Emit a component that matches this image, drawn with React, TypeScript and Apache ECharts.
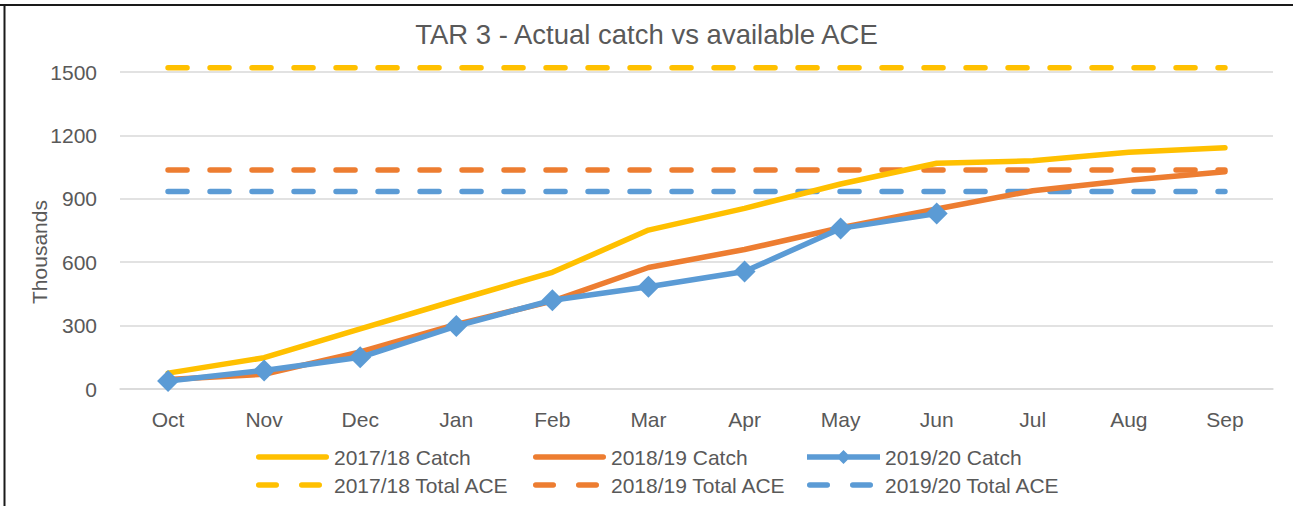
import React, { useEffect, useRef } from "react";
import * as echarts from "echarts";

const categories = ["Oct", "Nov", "Dec", "Jan", "Feb", "Mar", "Apr", "May", "Jun", "Jul", "Aug", "Sep"];
const catch1718 = [75, 148, 285, 420, 552, 752, 855, 970, 1068, 1080, 1120, 1142];
const catch1819 = [45, 70, 176, 306, 416, 575, 660, 763, 852, 938, 988, 1028];
const catch1920 = [38, 88, 150, 298, 420, 484, 556, 760, 830];
const ace1718 = [1520, 1520, 1520, 1520, 1520, 1520, 1520, 1520, 1520, 1520, 1520, 1520];
const ace1819 = [1036, 1036, 1036, 1036, 1036, 1036, 1036, 1036, 1036, 1036, 1036, 1036];
const ace1920 = [934, 934, 934, 934, 934, 934, 934, 934, 934, 934, 934, 934];
const yTicks = { min: 0, max: 1500, interval: 300 };

const YELLOW = "#FFC000";
const ORANGE = "#ED7D31";
const BLUE = "#5B9BD5";
const TEXT = "#595959";
const FONT = "'Liberation Sans', Arial, sans-serif";

const SOLID_ICON = "path://M2.75 0 H70.25 A2.75 2.75 0 0 1 70.25 5.5 H2.75 A2.75 2.75 0 0 1 2.75 0 Z";
const DASH_ICON =
  "path://M2.75 0 H20.25 A2.75 2.75 0 0 1 20.25 5.5 H2.75 A2.75 2.75 0 0 1 2.75 0 Z M45.75 0 H63.25 A2.75 2.75 0 0 1 63.25 5.5 H45.75 A2.75 2.75 0 0 1 45.75 0 Z";
const DIAMOND_ICON =
  "path://M0 4.25 L32.25 4.25 L36.5 0 L40.75 4.25 L73 4.25 L73 9.75 L40.75 9.75 L36.5 14 L32.25 9.75 L0 9.75 Z";

export default function App() {
  const ref = useRef<HTMLDivElement>(null);
  useEffect(() => {
    document.body.style.margin = "0";
    const chart = echarts.init(ref.current!, null, { renderer: "svg" });
    const lw = 5.5;
    const dash = { type: [19, 23] as any, cap: "round" as const };
    const mkLegend = (name: string, icon: string, left: number, top: number, w: number, h: number, padLeft: number) => ({
      show: true,
      data: [{ name, icon }],
      left,
      top,
      orient: "horizontal" as const,
      itemWidth: w,
      itemHeight: h,
      padding: 0,
      selectedMode: false,
      textStyle: { color: TEXT, fontSize: 21, fontFamily: FONT, lineHeight: 24, padding: [0, 0, 0, padLeft] },
    });
    chart.setOption({
      animation: false,
      backgroundColor: "#ffffff",
      title: {
        text: "TAR 3 - Actual catch vs available ACE",
        left: "center",
        top: 15,
        textStyle: { color: TEXT, fontSize: 27.5, fontWeight: "normal", fontFamily: FONT },
      },
      grid: { left: 120, right: 20, top: 72, bottom: 117, containLabel: false },
      xAxis: {
        type: "category",
        data: categories,
        boundaryGap: true,
        axisLine: { show: true, lineStyle: { color: "#d9d9d9", width: 1.5 } },
        axisTick: { show: false },
        axisLabel: { color: TEXT, fontSize: 21, fontFamily: FONT, margin: 20 },
      },
      yAxis: {
        type: "value",
        min: yTicks.min,
        max: yTicks.max,
        interval: yTicks.interval,
        axisLine: { show: false },
        axisTick: { show: false },
        splitLine: { lineStyle: { color: "#d9d9d9", width: 1.5 } },
        axisLabel: { color: TEXT, fontSize: 21, fontFamily: FONT, margin: 23, formatter: (v: number) => String(v) },
      },
      legend: [
        mkLegend("2017/18 Catch", SOLID_ICON, 256, 445, 73, 5.5, 0),
        mkLegend("2018/19 Catch", SOLID_ICON, 533, 445, 73, 5.5, 0),
        mkLegend("2019/20 Catch", DIAMOND_ICON, 807, 445, 73, 14, 0),
        mkLegend("2017/18 Total ACE", DASH_ICON, 256, 473, 66, 5.5, 7),
        mkLegend("2018/19 Total ACE", DASH_ICON, 533, 473, 66, 5.5, 7),
        mkLegend("2019/20 Total ACE", DASH_ICON, 807, 473, 66, 5.5, 7),
      ],
      graphic: [
        {
          type: "text",
          x: 39,
          y: 252,
          rotation: Math.PI / 2,
          style: { text: "Thousands", fill: TEXT, fontSize: 21, fontFamily: FONT, align: "center", verticalAlign: "middle" },
        },
        { type: "line", shape: { x1: 0, y1: 5, x2: 1293, y2: 5 }, style: { stroke: "#1a1a1a", lineWidth: 2 } },
        { type: "line", shape: { x1: 4.5, y1: 4, x2: 4.5, y2: 506 }, style: { stroke: "#1a1a1a", lineWidth: 2 } },
      ],
      series: [
        { name: "2017/18 Total ACE", type: "line", clip: false, data: ace1718, symbol: "none", lineStyle: { color: YELLOW, width: lw, ...dash }, itemStyle: { color: YELLOW } },
        { name: "2018/19 Total ACE", type: "line", clip: false, data: ace1819, symbol: "none", lineStyle: { color: ORANGE, width: lw, ...dash }, itemStyle: { color: ORANGE } },
        { name: "2019/20 Total ACE", type: "line", clip: false, data: ace1920, symbol: "none", lineStyle: { color: BLUE, width: lw, ...dash }, itemStyle: { color: BLUE } },
        { name: "2017/18 Catch", type: "line", data: catch1718, symbol: "none", lineStyle: { color: YELLOW, width: lw, cap: "round", join: "round" }, itemStyle: { color: YELLOW } },
        { name: "2018/19 Catch", type: "line", data: catch1819, symbol: "none", lineStyle: { color: ORANGE, width: lw, cap: "round", join: "round" }, itemStyle: { color: ORANGE } },
        { name: "2019/20 Catch", type: "line", data: catch1920, symbol: "diamond", symbolSize: 22, lineStyle: { color: BLUE, width: lw, cap: "round", join: "round" }, itemStyle: { color: BLUE } },
      ],
    });
    return () => chart.dispose();
  }, []);
  return <div ref={ref} style={{ width: 1293, height: 506 }} />;
}
